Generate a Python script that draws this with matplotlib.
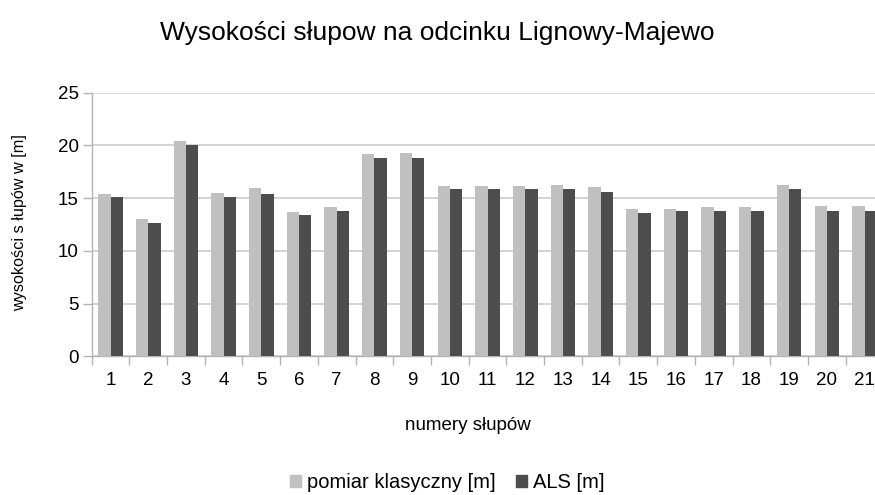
import matplotlib
matplotlib.use("Agg")
import matplotlib.pyplot as plt
import numpy as np
from matplotlib.patches import Patch

plt.rcParams['font.family'] = ['Liberation Sans', 'DejaVu Sans']

categories = [str(i) for i in range(1, 22)]
pomiar = [15.4, 13.0, 20.4, 15.5, 15.95, 13.7, 14.15, 19.2, 19.3, 16.15, 16.15,
          16.15, 16.25, 16.05, 13.95, 13.95, 14.15, 14.15, 16.25, 14.25, 14.25]
als = [15.1, 12.65, 20.05, 15.1, 15.4, 13.4, 13.8, 18.8, 18.8, 15.85, 15.85,
       15.85, 15.85, 15.6, 13.6, 13.8, 13.8, 13.8, 15.85, 13.8, 13.8]

light = '#c0c0c0'
dark = '#4d4d4d'
axis_gray = '#b3b3b3'

fig = plt.figure(figsize=(8.75, 4.95), dpi=100)
ax = fig.add_axes([91.7 / 875, 1 - 356.3 / 495, (883.4 - 91.7) / 875, (356.3 - 92.7) / 495])

x = np.arange(len(categories))
w = 0.327
ax.bar(x - w / 2, pomiar, width=w, color=light, zorder=3, label='pomiar klasyczny [m]')
ax.bar(x + w / 2, als, width=w, color=dark, zorder=3, label='ALS [m]')

ax.set_xlim(-0.5, len(categories) - 0.5)
ax.set_ylim(0, 25)
ax.set_yticks([0, 5, 10, 15, 20, 25])
ax.yaxis.grid(True, color='#d0d0d0', linewidth=1.3, zorder=0)
ax.set_axisbelow(True)

ax.set_xticks(np.arange(-0.5, len(categories), 1.0))
ax.set_xticklabels([])
ax.set_xticks(x, minor=True)
ax.set_xticklabels(categories, minor=True)
ax.tick_params(axis='x', which='major', length=6.5, color=axis_gray, width=1)
ax.tick_params(axis='x', which='minor', length=0, pad=11, labelsize=13.5)
ax.tick_params(axis='y', length=6.5, color=axis_gray, width=1, labelsize=13.5, pad=3)

for s in ['top', 'right']:
    ax.spines[s].set_visible(False)
for s in ['left', 'bottom']:
    ax.spines[s].set_color(axis_gray)
    ax.spines[s].set_linewidth(1)

fig.text(20 / 875, 1 - 223 / 495, 'wysokości s łupów w [m]', rotation=90,
         ha='center', va='center', fontsize=11.7)
fig.text(468 / 875, 1 - 425 / 495, 'numery słupów', ha='center', va='center', fontsize=13.5)
fig.text(437.5 / 875, 1 - 33 / 495, 'Wysokości słupow na odcinku Lignowy-Majewo',
         ha='center', va='center', fontsize=19)

handles = [Patch(color=light), Patch(color=dark)]
fig.legend(handles, ['pomiar klasyczny [m]', 'ALS [m]'], loc='center',
           bbox_to_anchor=(447 / 875, 1 - 483 / 495), ncol=2, frameon=False,
           fontsize=14.5, handlelength=0.55, handleheight=0.55, handletextpad=0.3,
           columnspacing=1.0)

fig.savefig('out.png', dpi=100)
